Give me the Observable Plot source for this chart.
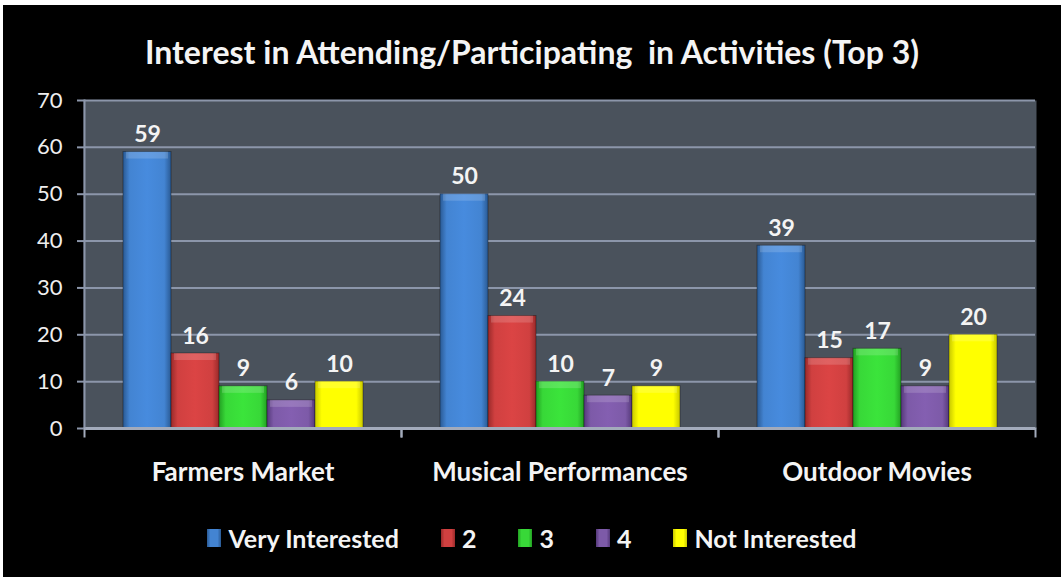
<!DOCTYPE html>
<html>
<head>
<meta charset="utf-8">
<script src="https://cdn.jsdelivr.net/npm/d3@7"></script>
<script src="https://cdn.jsdelivr.net/npm/@observablehq/plot@0.6"></script>
<style>
  html, body { margin: 0; padding: 0; background: #ffffff; }
  #panel { position: absolute; left: 3px; top: 5px; width: 1058px; height: 572px; background: #000; overflow: hidden; font-family: Lato, "Noto Sans", sans-serif; }
  #title { position: absolute; left: 0; width: 100%; top: 27px; text-align: center; color: #f4f4f4; font-weight: 700; font-size: 32px; line-height: 40px; white-space: pre; }
  #chart { position: absolute; left: 0; top: 75px; }
  #legend { position: absolute; left: 0; width: 100%; top: 518px; display: flex; justify-content: center; align-items: center; color: #f4f4f4; font-weight: 700; font-size: 25px; line-height: 30px; }
  .item { display: flex; align-items: center; margin: 0 21px; }
  .sw { width: 14px; height: 18px; margin-right: 7px; }
</style>
</head>
<body>
<div id="panel">
  <div id="title">Interest in Attending/Participating  in Activities (Top 3)</div>
  <div id="chart"></div>
  <div id="legend"></div>
</div>
<script>
const categories = ["Farmers Market", "Musical Performances", "Outdoor Movies"];
const series = ["Very Interested", "2", "3", "4", "Not Interested"];
const veryInterested = [59, 50, 39];
const rating2 = [16, 24, 15];
const rating3 = [9, 10, 17];
const rating4 = [6, 7, 9];
const notInterested = [10, 9, 20];
const yTicks = [0, 10, 20, 30, 40, 50, 60, 70];

const baseColors = ["#4384d2", "#d04040", "#38d838", "#7d5aa8", "#ffff00"];
const edgeColors = ["#2a5a94", "#9a2a2a", "#22a022", "#55397a", "#c8c800"];

const seriesValues = [veryInterested, rating2, rating3, rating4, notInterested];
const data = [];
categories.forEach((c, i) => {
  series.forEach((s, j) => data.push({category: c, series: s, value: seriesValues[j][i]}));
});

const plotH = 328;
const gridColor = "#8c96aa";
const font = "Lato, 'Noto Sans', sans-serif";

const chart = Plot.plot({
  width: 1058,
  height: 410,
  marginTop: 20,
  marginBottom: 62,
  marginLeft: 81,
  marginRight: 26,
  style: {background: "transparent", fontFamily: font},
  fx: {domain: categories, padding: 0, axis: null},
  x: {domain: series, paddingInner: 0, paddingOuter: 0.76, axis: null},
  y: {domain: [0, 70], axis: null},
  color: {type: "ordinal", domain: series, range: series.map((s, i) => `url(#grad${i})`)},
  marks: [
    Plot.frame({fill: "#4a525c", stroke: null, insetLeft: -1, insetRight: -1}),
    Plot.gridY(yTicks, {stroke: gridColor, strokeOpacity: 1, strokeWidth: 2}),
    Plot.barY(data, {fx: "category", x: "series", y: "value", fill: "series", stroke: "rgba(0,0,0,0.35)", strokeWidth: 1}),
    Plot.barY(data, {fx: "category", x: "series", y1: "value", y2: "value", insetBottom: -7, insetLeft: 3, insetRight: 3, fill: "#ffffff", fillOpacity: 0.16}),
    Plot.text(data, {fx: "category", x: "series", y: "value", text: d => String(d.value), dy: -10, lineAnchor: "bottom", fill: "#f4f4f4", fontSize: 23, fontWeight: 700}),
    Plot.ruleY([0], {stroke: "#a3abbb", strokeWidth: 3}),
    Plot.frame({anchor: "left", facetAnchor: "left", stroke: gridColor, strokeWidth: 2}),
    Plot.frame({anchor: "left", insetTop: plotH, insetBottom: -8, stroke: "#a3abbb", strokeWidth: 2}),
    Plot.frame({anchor: "right", insetTop: plotH, insetBottom: -8, stroke: "#a3abbb", strokeWidth: 2}),
    Plot.axisY(yTicks, {tickSize: 7, tickPadding: 15, stroke: gridColor, fill: "#eeeeee", fontSize: 22, strokeWidth: 2, label: null}),
    Plot.text(categories, {fx: d => d, text: d => d, frameAnchor: "bottom", lineAnchor: "middle", dy: 44, fill: "#f4f4f4", fontSize: 26, fontWeight: 700})
  ]
});

// gradient definitions for the bevelled bars
const svg = d3.select(chart);
const defs = svg.insert("defs", ":first-child");
baseColors.forEach((c, i) => {
  const g = defs.append("linearGradient").attr("id", `grad${i}`).attr("x1", "0").attr("x2", "1").attr("y1", "0").attr("y2", "0");
  g.append("stop").attr("offset", "0%").attr("stop-color", edgeColors[i]);
  g.append("stop").attr("offset", "14%").attr("stop-color", c);
  g.append("stop").attr("offset", "50%").attr("stop-color", d3.color(c).brighter(0.15).formatHex());
  g.append("stop").attr("offset", "86%").attr("stop-color", c);
  g.append("stop").attr("offset", "100%").attr("stop-color", edgeColors[i]);
});
document.getElementById("chart").appendChild(chart);

// legend
const legend = d3.select("#legend");
series.forEach((s, i) => {
  const item = legend.append("div").attr("class", "item");
  item.append("div").attr("class", "sw")
    .style("background", `linear-gradient(to right, ${edgeColors[i]}, ${baseColors[i]} 25%, ${baseColors[i]} 75%, ${edgeColors[i]})`);
  item.append("span").text(s);
});
</script>
</body>
</html>
